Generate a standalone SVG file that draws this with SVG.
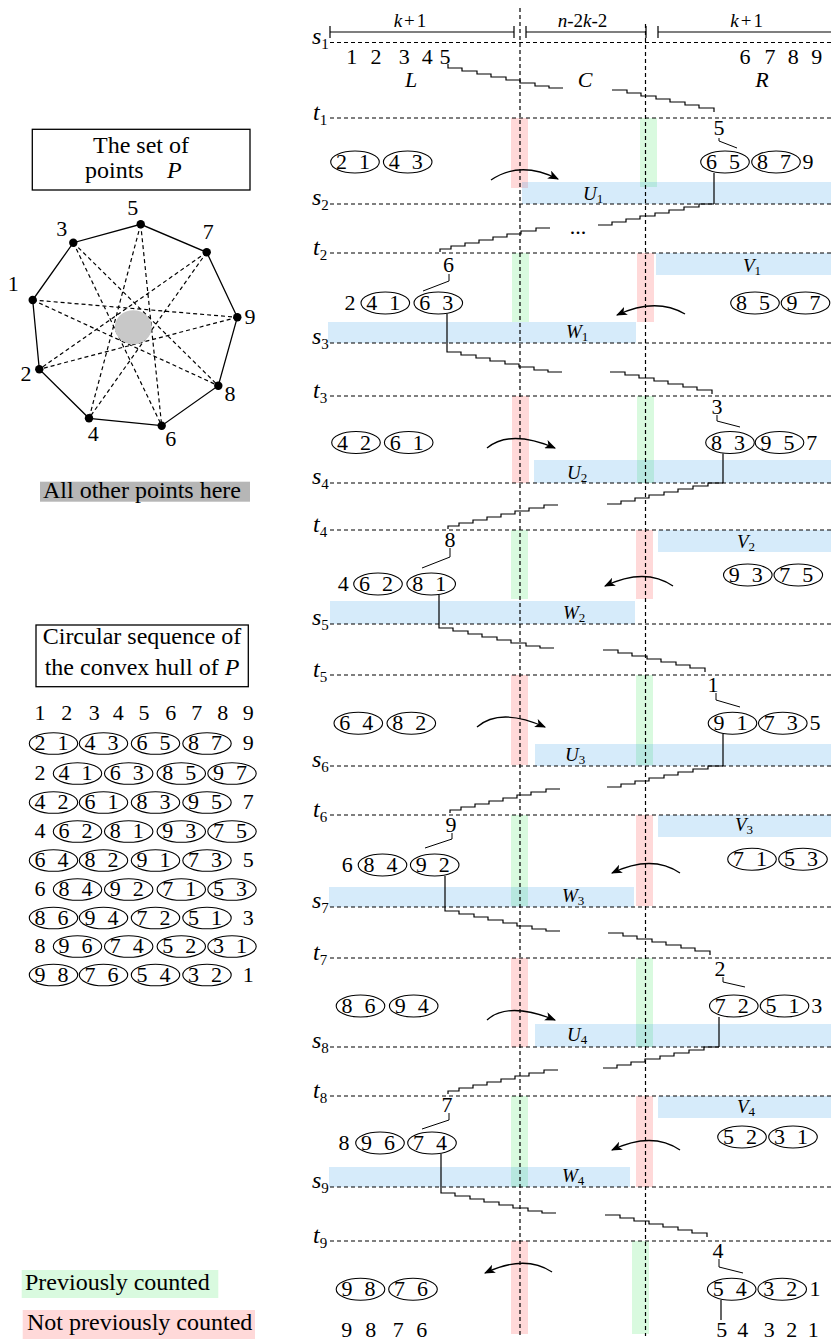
<svg xmlns="http://www.w3.org/2000/svg" width="831" height="1343" viewBox="0 0 831 1343" font-family="'Liberation Serif', 'Times New Roman', serif">
<defs>
<style>
text, tspan{font-family:'Liberation Serif','Times New Roman',Times,serif;fill:#000}
.d{font-size:22px;text-anchor:middle}
.lb{font-size:24px}
.i{font-style:italic}
.m{font-size:19px;font-style:italic}
.sb{font-size:13px;font-style:normal}
.ss{font-size:15px;font-style:normal}
.dash{stroke:#000;stroke-width:1.2;stroke-dasharray:4 3;fill:none}
.ln{fill:none;stroke:#000;stroke-width:1.2}
.el{fill:none;stroke:#000;stroke-width:1.1}
.bl{fill:rgb(30,144,230);fill-opacity:.18}
.gr{fill:rgb(0,220,40);fill-opacity:.15}
.rd{fill:rgb(255,0,0);fill-opacity:.15}
.ar{fill:none;stroke:#000;stroke-width:1.3;marker-end:url(#ah)}
.box{fill:none;stroke:#000;stroke-width:1.3}
</style>
<marker id="ah" viewBox="0 0 10 8" refX="9" refY="4" markerWidth="11" markerHeight="9" orient="auto" markerUnits="userSpaceOnUse"><path d="M0 0L10 4L0 8L2.5 4z" fill="#000"/></marker>
<path id="sdl" d="M0 0v4h14v3h15v3h14v3h15v3h14v3h15v3h14v2h14"/>
<path id="sdr" d="M0 0h15v3h14v3h15v3h14v3h15v3h14v3h15v4"/>
<path id="sal" d="M0 0h-14v3h-15v3h-14v3h-14v3h-14v3h-14v3h-14v3h-11v3"/>
<path id="sar" d="M0 0h-15v3h-15v3h-15v3h-14v3h-15v3h-14v3h-14v3h-14"/>
</defs>

<!-- ===== Left: set of points ===== -->
<g id="title-points">
<rect class="box" x="32.3" y="129.3" width="217.7" height="60.7"/>
<text class="lb" x="141" y="153" text-anchor="middle">The set of</text>
<text class="lb" y="178"><tspan x="85">points</tspan><tspan x="167" font-style="italic">P</tspan></text>
</g>
<g id="point-set">
<polygon points="32.7,300 73.3,242.7 140.7,224.3 206.7,252.3 237.3,317.3 218.3,385.7 161.7,425.7 89,418.3 39.3,369.3" fill="none" stroke="#000" stroke-width="1.3"/>
<path class="dash" stroke-width="1" d="M32.7 300L237.3 317.3M32.7 300L218.3 385.7M73.3 242.7L218.3 385.7M73.3 242.7L161.7 425.7M140.7 224.3L161.7 425.7M140.7 224.3L89 418.3M206.7 252.3L89 418.3M206.7 252.3L39.3 369.3M237.3 317.3L39.3 369.3"/>
<ellipse cx="133.3" cy="327.3" rx="18.5" ry="17" fill="#c8c8c8"/>
<g fill="#000">
<circle cx="32.7" cy="300" r="4.2"/><circle cx="73.3" cy="242.7" r="4.2"/><circle cx="140.7" cy="224.3" r="4.2"/><circle cx="206.7" cy="252.3" r="4.2"/><circle cx="237.3" cy="317.3" r="4.2"/><circle cx="218.3" cy="385.7" r="4.2"/><circle cx="161.7" cy="425.7" r="4.2"/><circle cx="89" cy="418.3" r="4.2"/><circle cx="39.3" cy="369.3" r="4.2"/>
</g>
<text class="d" x="132.7" y="215">5</text>
<text class="d" x="61.7" y="236">3</text>
<text class="d" x="208.3" y="239">7</text>
<text class="d" x="13.3" y="291">1</text>
<text class="d" x="250" y="324">9</text>
<text class="d" x="26" y="381">2</text>
<text class="d" x="230" y="401">8</text>
<text class="d" x="93.3" y="441">4</text>
<text class="d" x="170.7" y="446">6</text>
</g>
<g id="other-points">
<rect x="40" y="481.7" width="210" height="20" fill="#b6b6b6"/>
<text class="lb" x="43" y="498">All other points here</text>
</g>

<!-- ===== Left: circular sequence ===== -->
<g id="title-seq">
<rect class="box" x="36" y="625" width="212.3" height="61.7"/>
<text class="lb" x="142" y="644" text-anchor="middle">Circular sequence of</text>
<text class="lb" x="142" y="675" text-anchor="middle">the convex hull of <tspan font-style="italic">P</tspan></text>
</g>
<g id="seq-row0"><text class="d" x="40 53 66.7 80 94.3 106 118.3 131 144 157 170.7 184 196.7 210 222.7 236 248.3" y="719.5">1 2 3 4 5 6 7 8 9</text></g>
<g id="seq-row1">
<ellipse class="el" cx="53.5" cy="743.5" rx="24.2" ry="10.8"/><ellipse class="el" cx="103.5" cy="743.5" rx="24.2" ry="10.8"/><ellipse class="el" cx="155.5" cy="743.5" rx="24.2" ry="10.8"/><ellipse class="el" cx="207" cy="743.5" rx="24.2" ry="10.8"/>
<text class="d" x="40 51 63 75 90 101 113 128 142 153 165 180 193.5 205 216.5 232 248.3" y="750">2 1 4 3 6 5 8 7 9</text>
</g>
<g id="seq-row2">
<ellipse class="el" cx="77.5" cy="773.5" rx="24.2" ry="10.8"/><ellipse class="el" cx="128.7" cy="773.5" rx="24.2" ry="10.8"/><ellipse class="el" cx="181.3" cy="773.5" rx="24.2" ry="10.8"/><ellipse class="el" cx="232" cy="773.5" rx="24.2" ry="10.8"/>
<text class="d" x="40 52 64 75 87 100 115.2 127 138.2 152 167.8 179 190.8 205 218.5 230 241.5" y="780">2 4 1 6 3 8 5 9 7</text>
</g>
<g id="seq-row3">
<ellipse class="el" cx="53.5" cy="802.5" rx="24.2" ry="10.8"/><ellipse class="el" cx="103.5" cy="802.5" rx="24.2" ry="10.8"/><ellipse class="el" cx="155.5" cy="802.5" rx="24.2" ry="10.8"/><ellipse class="el" cx="207" cy="802.5" rx="24.2" ry="10.8"/>
<text class="d" x="40 51 63 75 90 101 113 128 142 153 165 180 193.5 205 216.5 232 248.3" y="809">4 2 6 1 8 3 9 5 7</text>
</g>
<g id="seq-row4">
<ellipse class="el" cx="77.5" cy="831.5" rx="24.2" ry="10.8"/><ellipse class="el" cx="128.7" cy="831.5" rx="24.2" ry="10.8"/><ellipse class="el" cx="181.3" cy="831.5" rx="24.2" ry="10.8"/><ellipse class="el" cx="232" cy="831.5" rx="24.2" ry="10.8"/>
<text class="d" x="40 52 64 75 87 100 115.2 127 138.2 152 167.8 179 190.8 205 218.5 230 241.5" y="838">4 6 2 8 1 9 3 7 5</text>
</g>
<g id="seq-row5">
<ellipse class="el" cx="53.5" cy="860.5" rx="24.2" ry="10.8"/><ellipse class="el" cx="103.5" cy="860.5" rx="24.2" ry="10.8"/><ellipse class="el" cx="155.5" cy="860.5" rx="24.2" ry="10.8"/><ellipse class="el" cx="207" cy="860.5" rx="24.2" ry="10.8"/>
<text class="d" x="40 51 63 75 90 101 113 128 142 153 165 180 193.5 205 216.5 232 248.3" y="867">6 4 8 2 9 1 7 3 5</text>
</g>
<g id="seq-row6">
<ellipse class="el" cx="77.5" cy="889.5" rx="24.2" ry="10.8"/><ellipse class="el" cx="128.7" cy="889.5" rx="24.2" ry="10.8"/><ellipse class="el" cx="181.3" cy="889.5" rx="24.2" ry="10.8"/><ellipse class="el" cx="232" cy="889.5" rx="24.2" ry="10.8"/>
<text class="d" x="40 52 64 75 87 100 115.2 127 138.2 152 167.8 179 190.8 205 218.5 230 241.5" y="896">6 8 4 9 2 7 1 5 3</text>
</g>
<g id="seq-row7">
<ellipse class="el" cx="53.5" cy="918" rx="24.2" ry="10.8"/><ellipse class="el" cx="103.5" cy="918" rx="24.2" ry="10.8"/><ellipse class="el" cx="155.5" cy="918" rx="24.2" ry="10.8"/><ellipse class="el" cx="207" cy="918" rx="24.2" ry="10.8"/>
<text class="d" x="40 51 63 75 90 101 113 128 142 153 165 180 193.5 205 216.5 232 248.3" y="924.5">8 6 9 4 7 2 5 1 3</text>
</g>
<g id="seq-row8">
<ellipse class="el" cx="77.5" cy="946.5" rx="24.2" ry="10.8"/><ellipse class="el" cx="128.7" cy="946.5" rx="24.2" ry="10.8"/><ellipse class="el" cx="181.3" cy="946.5" rx="24.2" ry="10.8"/><ellipse class="el" cx="232" cy="946.5" rx="24.2" ry="10.8"/>
<text class="d" x="40 52 64 75 87 100 115.2 127 138.2 152 167.8 179 190.8 205 218.5 230 241.5" y="953">8 9 6 7 4 5 2 3 1</text>
</g>
<g id="seq-row9">
<ellipse class="el" cx="53.5" cy="975" rx="24.2" ry="10.8"/><ellipse class="el" cx="103.5" cy="975" rx="24.2" ry="10.8"/><ellipse class="el" cx="155.5" cy="975" rx="24.2" ry="10.8"/><ellipse class="el" cx="207" cy="975" rx="24.2" ry="10.8"/>
<text class="d" x="40 51 63 75 90 101 113 128 142 153 165 180 193.5 205 216.5 232 248.3" y="981.5">9 8 7 6 5 4 3 2 1</text>
</g>

<!-- ===== Legend ===== -->
<g id="legend-prev"><rect x="21.7" y="1270" width="196.6" height="28" fill="rgb(217,250,223)"/><text class="lb" x="25" y="1290">Previously counted</text></g>
<g id="legend-not"><rect x="22.7" y="1310" width="232.3" height="29" fill="rgb(255,217,217)"/><text class="lb" x="27" y="1330">Not previously counted</text></g>

<!-- ===== Right: regions (bands / U V W) ===== -->
<g id="regions">
<rect class="rd" x="511" y="118" width="17" height="70"/><rect class="gr" x="640" y="118" width="17" height="69"/>
<rect class="bl" x="522" y="182" width="309" height="22"/>
<rect class="gr" x="512" y="253" width="17" height="69"/><rect class="rd" x="637" y="253" width="17" height="69"/>
<rect class="bl" x="656" y="253" width="175" height="22"/><rect class="bl" x="328" y="322" width="308" height="21"/>
<rect class="rd" x="512" y="396" width="17" height="87"/><rect class="gr" x="637" y="396" width="17" height="87"/>
<rect class="bl" x="534" y="460" width="297" height="23"/>
<rect class="gr" x="511" y="530" width="17" height="69"/><rect class="rd" x="636" y="530" width="17" height="69"/>
<rect class="bl" x="658" y="530" width="173" height="22"/><rect class="bl" x="330" y="601" width="305" height="23"/>
<rect class="rd" x="511" y="675" width="17" height="90"/><rect class="gr" x="636" y="675" width="17" height="90"/>
<rect class="bl" x="535" y="744" width="296" height="22"/>
<rect class="gr" x="511" y="815" width="17" height="91"/><rect class="rd" x="636" y="815" width="17" height="91"/>
<rect class="bl" x="658" y="815" width="173" height="22"/><rect class="bl" x="329" y="887" width="305" height="20"/>
<rect class="rd" x="511" y="958" width="17" height="89"/><rect class="gr" x="636" y="958" width="17" height="89"/>
<rect class="bl" x="535" y="1024" width="296" height="23"/>
<rect class="gr" x="511" y="1096" width="17" height="91"/><rect class="rd" x="636" y="1096" width="17" height="91"/>
<rect class="bl" x="658" y="1096" width="173" height="22"/><rect class="bl" x="329" y="1167" width="301" height="20"/>
<rect class="rd" x="511" y="1241" width="17" height="93"/><rect class="gr" x="632" y="1241" width="17" height="93"/>
</g>

<!-- ===== Right: grid lines ===== -->
<g id="grid">
<line class="dash" x1="520" y1="8" x2="520" y2="1336"/>
<line class="dash" x1="645.5" y1="24" x2="645.5" y2="1336"/>
<path class="dash" d="M330 42.5H831M330 118H831M330 204H831M330 253H831M330 343H831M330 396H831M330 483H831M330 530H831M330 624H831M330 675H831M330 766H831M330 815H831M330 907H831M330 958H831M330 1047H831M330 1096H831M330 1187H831M330 1241H831"/>
</g>
<g id="line-labels">
<text class="lb i" x="312" y="44">s<tspan class="ss" dy="5">1</tspan></text>
<text class="lb i" x="313" y="120">t<tspan class="ss" dy="5">1</tspan></text>
<text class="lb i" x="312" y="205">s<tspan class="ss" dy="5">2</tspan></text>
<text class="lb i" x="313" y="255">t<tspan class="ss" dy="5">2</tspan></text>
<text class="lb i" x="312" y="344">s<tspan class="ss" dy="5">3</tspan></text>
<text class="lb i" x="313" y="398">t<tspan class="ss" dy="5">3</tspan></text>
<text class="lb i" x="312" y="484">s<tspan class="ss" dy="5">4</tspan></text>
<text class="lb i" x="313" y="532">t<tspan class="ss" dy="5">4</tspan></text>
<text class="lb i" x="312" y="625">s<tspan class="ss" dy="5">5</tspan></text>
<text class="lb i" x="313" y="677">t<tspan class="ss" dy="5">5</tspan></text>
<text class="lb i" x="312" y="767">s<tspan class="ss" dy="5">6</tspan></text>
<text class="lb i" x="313" y="817">t<tspan class="ss" dy="5">6</tspan></text>
<text class="lb i" x="312" y="908">s<tspan class="ss" dy="5">7</tspan></text>
<text class="lb i" x="313" y="960">t<tspan class="ss" dy="5">7</tspan></text>
<text class="lb i" x="312" y="1048">s<tspan class="ss" dy="5">8</tspan></text>
<text class="lb i" x="313" y="1098">t<tspan class="ss" dy="5">8</tspan></text>
<text class="lb i" x="312" y="1188">s<tspan class="ss" dy="5">9</tspan></text>
<text class="lb i" x="313" y="1243">t<tspan class="ss" dy="5">9</tspan></text>
</g>

<!-- header -->
<g id="header">
<path class="ln" d="M330 32H514M330 26V38M514 26V38M526 32H646M526 26V38M646 26V38M658 32H831M658 26V38"/>
<text class="m" font-size="20" x="410" y="27" text-anchor="middle">k<tspan font-style="normal" dx="2">+</tspan><tspan font-style="normal" dx="2">1</tspan></text>
<text class="m" font-size="20" x="582.5" y="27" text-anchor="middle">n<tspan font-style="normal">-2</tspan>k<tspan font-style="normal">-2</tspan></text>
<text class="m" font-size="20" x="746.7" y="27" text-anchor="middle">k<tspan font-style="normal" dx="2">+</tspan><tspan font-style="normal" dx="2">1</tspan></text>
<text class="d" x="351.7 364 376 390 404.3 416 427.3 436 445" y="64">1 2 3 4 5</text>
<text class="d" x="745 757 770 781 793.3 805 816.7" y="64">6 7 8 9</text>
<text class="d i" x="411" y="87">L</text>
<text class="d i" x="585" y="87">C</text>
<text class="d i" x="762" y="87">R</text>
</g>

<!-- region labels -->
<g id="region-labels">
<text class="m" x="583" y="200">U<tspan class="sb" dy="3">1</tspan></text>
<text class="m" x="743" y="272">V<tspan class="sb" dy="3">1</tspan></text>
<text class="m" x="566" y="338">W<tspan class="sb" dy="3">1</tspan></text>
<text class="m" x="567" y="479">U<tspan class="sb" dy="3">2</tspan></text>
<text class="m" x="737" y="548">V<tspan class="sb" dy="3">2</tspan></text>
<text class="m" x="563" y="619">W<tspan class="sb" dy="3">2</tspan></text>
<text class="m" x="565" y="761">U<tspan class="sb" dy="3">3</tspan></text>
<text class="m" x="735" y="831">V<tspan class="sb" dy="3">3</tspan></text>
<text class="m" x="562" y="902">W<tspan class="sb" dy="3">3</tspan></text>
<text class="m" x="567" y="1041">U<tspan class="sb" dy="3">4</tspan></text>
<text class="m" x="737" y="1113">V<tspan class="sb" dy="3">4</tspan></text>
<text class="m" x="562" y="1182">W<tspan class="sb" dy="3">4</tspan></text>
</g>

<!-- ===== connectors ===== -->
<g id="connectors" class="ln">
<use href="#sdl" x="448" y="64"/><use href="#sdr" x="612" y="90"/>
<use href="#sar" x="714" y="204"/><use href="#sal" x="550" y="228"/>
<use href="#sdl" x="447" y="348"/><use href="#sdr" x="610" y="372"/>
<use href="#sar" x="723" y="483"/><use href="#sal" x="558" y="505"/>
<use href="#sdl" x="439" y="624"/><use href="#sdr" x="603" y="650"/>
<use href="#sar" x="723" y="766"/><use href="#sal" x="560" y="789"/>
<use href="#sdl" x="445" y="907"/><use href="#sdr" x="608" y="933"/>
<use href="#sar" x="719" y="1047"/><use href="#sal" x="558" y="1070"/>
<use href="#sdl" x="441" y="1189"/><use href="#sdr" x="605" y="1215"/>
<path d="M714 173V204M447 314V348M723 453.5V483M439 595V624M723 734V766M445 876V907M719 1017V1047M441 1154V1189M721 1300V1320"/>
<path stroke-width="1" d="M719 138v3l18 7M449 274v7l-26 10M717 415v6l23 6M450 548v9l-28 11M716 693v7l24 7M452 833v6l-27 9M723 977v5l22 5M449 1113v7l-27 9M719 1259v8l24 6"/>
<path class="ar" d="M491 180Q520 160 558 179"/>
<path class="ar" d="M685 314Q656 297 617 315"/>
<path class="ar" d="M487 448Q510 429 555 448"/>
<path class="ar" d="M673 586Q645 567 605 586"/>
<path class="ar" d="M477 727Q500 707 545 727"/>
<path class="ar" d="M680 873Q652 854 612 873"/>
<path class="ar" d="M487 1020Q508 1001 555 1020"/>
<path class="ar" d="M680 1150Q652 1131 612 1150"/>
<path class="ar" d="M552 1272Q525 1254 485 1273"/>
</g>
<text class="d" x="578" y="234">...</text>

<!-- ===== Row nodes ===== -->
<g id="row1">
<text class="d" x="719" y="135">5</text>
<g id="r1-a"><ellipse class="el" cx="355" cy="162" rx="24.3" ry="11"/><text class="d" x="341.5 353 364.5" y="169">2 1</text></g>
<g id="r1-b"><ellipse class="el" cx="407.7" cy="162" rx="24.3" ry="11"/><text class="d" x="394.2 405 417.2" y="169">4 3</text></g>
<g id="r1-c"><ellipse class="el" cx="725" cy="162" rx="24.3" ry="11"/><text class="d" x="711.5 723 734.5" y="169">6 5</text></g>
<g id="r1-d"><ellipse class="el" cx="776" cy="162" rx="24.3" ry="11"/><text class="d" x="762.5 774 785.5" y="169">8 7</text></g>
<text class="d" x="808" y="169">9</text>
</g>
<g id="row2">
<text class="d" x="448.5" y="272">6</text>
<text class="d" x="350" y="310">2</text>
<g id="r2-a"><ellipse class="el" cx="385.3" cy="303" rx="24.3" ry="11"/><text class="d" x="371.8 383 394.8" y="310">4 1</text></g>
<g id="r2-b"><ellipse class="el" cx="438.3" cy="303" rx="24.3" ry="11"/><text class="d" x="424.8 436 447.8" y="310">6 3</text></g>
<g id="r2-c"><ellipse class="el" cx="755" cy="303" rx="24.3" ry="11"/><text class="d" x="741.5 753 764.5" y="310">8 5</text></g>
<g id="r2-d"><ellipse class="el" cx="805.5" cy="303" rx="24.3" ry="11"/><text class="d" x="792 803 815" y="310">9 7</text></g>
</g>
<g id="row3">
<text class="d" x="717" y="414">3</text>
<g id="r3-a"><ellipse class="el" cx="356" cy="442.5" rx="24.3" ry="11"/><text class="d" x="342.5 354 365.5" y="449.5">4 2</text></g>
<g id="r3-b"><ellipse class="el" cx="408.7" cy="442.5" rx="24.3" ry="11"/><text class="d" x="395.2 406 418.2" y="449.5">6 1</text></g>
<g id="r3-c"><ellipse class="el" cx="730" cy="442.5" rx="24.3" ry="11"/><text class="d" x="716.5 728 739.5" y="449.5">8 3</text></g>
<g id="r3-d"><ellipse class="el" cx="779.5" cy="442.5" rx="24.3" ry="11"/><text class="d" x="766 777 789" y="449.5">9 5</text></g>
<text class="d" x="811.7" y="449.5">7</text>
</g>
<g id="row4">
<text class="d" x="450" y="547">8</text>
<text class="d" x="343.3" y="591">4</text>
<g id="r4-a"><ellipse class="el" cx="378" cy="584" rx="24.3" ry="11"/><text class="d" x="364.5 376 387.5" y="591">6 2</text></g>
<g id="r4-b"><ellipse class="el" cx="431.2" cy="584" rx="24.3" ry="11"/><text class="d" x="417.7 429 440.7" y="591">8 1</text></g>
<g id="r4-c"><ellipse class="el" cx="747.8" cy="575" rx="24.3" ry="11"/><text class="d" x="734.3 746 757.3" y="582">9 3</text></g>
<g id="r4-d"><ellipse class="el" cx="798.3" cy="575" rx="24.3" ry="11"/><text class="d" x="784.8 796 807.8" y="582">7 5</text></g>
</g>
<g id="row5">
<text class="d" x="713" y="692">1</text>
<g id="r5-a"><ellipse class="el" cx="358.3" cy="723.3" rx="24.3" ry="11"/><text class="d" x="344.8 356 367.8" y="730.3">6 4</text></g>
<g id="r5-b"><ellipse class="el" cx="411.3" cy="723.3" rx="24.3" ry="11"/><text class="d" x="397.8 409 420.8" y="730.3">8 2</text></g>
<g id="r5-c"><ellipse class="el" cx="732.5" cy="723.3" rx="24.3" ry="11"/><text class="d" x="719 730 742" y="730.3">9 1</text></g>
<g id="r5-d"><ellipse class="el" cx="782.8" cy="723.3" rx="24.3" ry="11"/><text class="d" x="769.3 780 792.3" y="730.3">7 3</text></g>
<text class="d" x="815" y="730.3">5</text>
</g>
<g id="row6">
<text class="d" x="451" y="832">9</text>
<text class="d" x="347.3" y="872">6</text>
<g id="r6-a"><ellipse class="el" cx="382.5" cy="865" rx="24.3" ry="11"/><text class="d" x="369 380 392" y="872">8 4</text></g>
<g id="r6-b"><ellipse class="el" cx="434.7" cy="865" rx="24.3" ry="11"/><text class="d" x="421.2 432 444.2" y="872">9 2</text></g>
<g id="r6-c"><ellipse class="el" cx="752" cy="859.3" rx="24.3" ry="11"/><text class="d" x="738.5 750 761.5" y="866.3">7 1</text></g>
<g id="r6-d"><ellipse class="el" cx="803" cy="859.3" rx="24.3" ry="11"/><text class="d" x="789.5 801 812.5" y="866.3">5 3</text></g>
</g>
<g id="row7">
<text class="d" x="720" y="976">2</text>
<g id="r7-a"><ellipse class="el" cx="360.5" cy="1006" rx="24.3" ry="11"/><text class="d" x="347 358 370" y="1013">8 6</text></g>
<g id="r7-b"><ellipse class="el" cx="413.7" cy="1006" rx="24.3" ry="11"/><text class="d" x="400.2 411 423.2" y="1013">9 4</text></g>
<g id="r7-c"><ellipse class="el" cx="733.8" cy="1006" rx="24.3" ry="11"/><text class="d" x="720.3 731 743.3" y="1013">7 2</text></g>
<g id="r7-d"><ellipse class="el" cx="784.5" cy="1006" rx="24.3" ry="11"/><text class="d" x="771 782 794" y="1013">5 1</text></g>
<text class="d" x="816.7" y="1013">3</text>
</g>
<g id="row8">
<text class="d" x="447" y="1112">7</text>
<text class="d" x="344" y="1150">8</text>
<g id="r8-a"><ellipse class="el" cx="380" cy="1143" rx="24.3" ry="11"/><text class="d" x="366.5 378 389.5" y="1150">9 6</text></g>
<g id="r8-b"><ellipse class="el" cx="432" cy="1143" rx="24.3" ry="11"/><text class="d" x="418.5 430 441.5" y="1150">7 4</text></g>
<g id="r8-c"><ellipse class="el" cx="742" cy="1137" rx="24.3" ry="11"/><text class="d" x="728.5 740 751.5" y="1144">5 2</text></g>
<g id="r8-d"><ellipse class="el" cx="793" cy="1137" rx="24.3" ry="11"/><text class="d" x="779.5 791 802.5" y="1144">3 1</text></g>
</g>
<g id="row9">
<text class="d" x="718" y="1258">4</text>
<g id="r9-a"><ellipse class="el" cx="360.5" cy="1289.3" rx="24.3" ry="11"/><text class="d" x="347 358 370" y="1296.3">9 8</text></g>
<g id="r9-b"><ellipse class="el" cx="413" cy="1289.3" rx="24.3" ry="11"/><text class="d" x="399.5 411 422.5" y="1296.3">7 6</text></g>
<g id="r9-c"><ellipse class="el" cx="731.7" cy="1289.3" rx="24.3" ry="11"/><text class="d" x="718.2 729 741.2" y="1296.3">5 4</text></g>
<g id="r9-d"><ellipse class="el" cx="782.2" cy="1289.3" rx="24.3" ry="11"/><text class="d" x="768.7 780 791.7" y="1296.3">3 2</text></g>
<text class="d" x="815" y="1296.3">1</text>
<text class="d" x="346.7 358 370.7 384 398.3 410 421.7" y="1337">9 8 7 6</text>
<text class="d" x="721.7 732 742.7 756 769.3 780 791.7 802 813.3" y="1337">5 4 3 2 1</text>
</g>
</svg>
